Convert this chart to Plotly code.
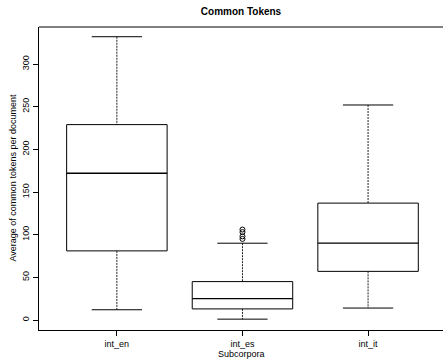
import plotly.graph_objects as go

categories = ["int_en", "int_es", "int_it"]
lower_whisker = [12, 1, 14]
q1 = [81, 13, 57]
median = [172, 25, 90]
q3 = [229, 45, 137]
upper_whisker = [332, 90, 252]
outlier_cat = ["int_es", "int_es", "int_es", "int_es"]
outlier_vals = [106, 103, 98, 95]

BOXW = 0.8
CAPW = 0.4
pos = {c: i + 1 for i, c in enumerate(categories)}

fig = go.Figure()
line_solid = dict(color="#000000", width=1)
line_dot = dict(color="#222222", width=1, dash="2px,1px")

for c, lw, a, m, b, uw in zip(categories, lower_whisker, q1, median, q3, upper_whisker):
    x = pos[c]
    fig.add_trace(go.Scatter(x=[x, x, None, x, x], y=[uw, b, None, a, lw], mode="lines",
                             line=line_dot, showlegend=False, hoverinfo="skip"))
    fig.add_trace(go.Scatter(x=[x - CAPW / 2, x + CAPW / 2, None, x - CAPW / 2, x + CAPW / 2],
                             y=[uw, uw, None, lw, lw], mode="lines",
                             line=line_solid, showlegend=False, hoverinfo="skip"))
    fig.add_trace(go.Scatter(x=[x - BOXW / 2, x + BOXW / 2, x + BOXW / 2, x - BOXW / 2, x - BOXW / 2],
                             y=[a, a, b, b, a], mode="lines",
                             line=line_solid, showlegend=False, hoverinfo="skip"))
    fig.add_trace(go.Scatter(x=[x - BOXW / 2, x + BOXW / 2], y=[m, m], mode="lines",
                             line=dict(color="#000000", width=1.3), showlegend=False, hoverinfo="skip"))

fig.add_trace(go.Scatter(x=[pos[c] for c in outlier_cat], y=outlier_vals, mode="markers",
                         marker=dict(symbol="circle-open", size=5, color="#000000",
                                     line=dict(width=1)),
                         showlegend=False, hoverinfo="skip"))

W, H = 443, 360
font = "Liberation Sans, Arial, Helvetica, sans-serif"
fig.update_layout(
    width=W, height=H,
    margin=dict(l=39, r=0, t=27, b=30, autoexpand=False),
    paper_bgcolor="white", plot_bgcolor="white",
    font=dict(family=font, size=9, color="#000000"),
    title=dict(text="<b>Common Tokens</b>", x=0.5, xref="paper", y=1 - 11 / H,
               yanchor="middle", xanchor="center", font=dict(size=10, family=font)),
    shapes=[dict(type="line", xref="paper", yref="paper", x0=0, x1=1, y0=1, y1=1,
                 line=dict(color="#000000", width=1))],
    annotations=[
        dict(text="Subcorpora", xref="paper", yref="paper", x=0.5,
             y=-(354 - 330) / 303, xanchor="center", yanchor="middle",
             showarrow=False, font=dict(size=9)),
        dict(text="Average of common tokens per document", xref="paper", yref="paper",
             x=-(39 - 12) / 404, y=0.5, xanchor="center", yanchor="middle",
             textangle=-90, showarrow=False, font=dict(size=9)),
    ],
)
fig.update_xaxes(
    range=[0.38, 0.38 + 404 / 125.6], automargin=False,
    tickmode="array", tickvals=[pos[c] for c in categories], ticktext=categories,
    ticks="outside", ticklen=5, tickcolor="#000000", tickwidth=1,
    showline=True, linecolor="#000000", linewidth=1,
    showgrid=False, zeroline=False,
    tickfont=dict(size=9),
)
fig.update_yaxes(
    range=[-11.72, 343.4], automargin=False,
    tickmode="array", tickvals=[0, 50, 100, 150, 200, 250, 300],
    tickangle=-90,
    ticks="outside", ticklen=5, tickcolor="#000000", tickwidth=1,
    showline=True, linecolor="#000000", linewidth=1,
    showgrid=False, zeroline=False,
    tickfont=dict(size=9),
)

fig.write_html("out.html", config={"displayModeBar": False},
               post_script="document.body.style.margin='0';document.body.style.padding='0';"
                           "document.body.style.overflow='hidden';")
